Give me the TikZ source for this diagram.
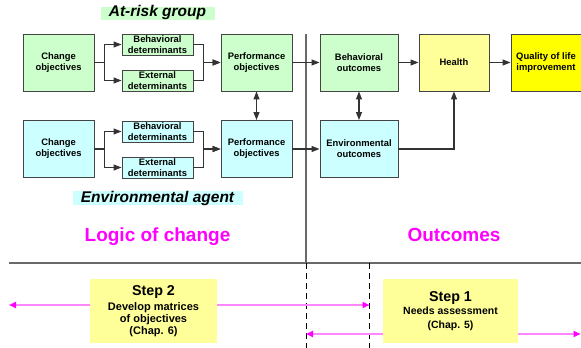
\documentclass[tikz,border=0pt]{standalone}
\usepackage{fontspec}
\setmainfont{Liberation Sans}
\usetikzlibrary{arrows.meta}
\definecolor{gbox}{HTML}{CCFFCC}
\definecolor{cbox}{HTML}{CCFFFF}
\definecolor{ybox}{HTML}{FFFF99}
\definecolor{yybox}{HTML}{FFFF00}
\definecolor{bord}{HTML}{444444}
\definecolor{conn}{HTML}{333333}
\definecolor{mag}{HTML}{FF00FF}
\definecolor{lmag}{HTML}{FF88FF}
\tikzset{
  box/.style={draw=bord,line width=0.9pt,inner sep=0pt,align=center,
    font=\bfseries\fontsize{9.4}{11}\selectfont},
  bigbox/.style={box,minimum width=71pt,minimum height=57pt},
  detbox/.style={box,minimum width=71pt,minimum height=21pt},
  conarr/.style={draw=conn,line width=1.2pt,-{Triangle[length=8pt,width=6pt]}},
  dblarr/.style={draw=conn,line width=1.2pt,{Triangle[length=8pt,width=6pt]}-{Triangle[length=8pt,width=6pt]}},
  magarr/.style={draw=lmag,line width=1.8pt,{Triangle[length=7pt,width=6pt,color=mag]}-{Triangle[length=7pt,width=6pt,color=mag]}},
  grouplab/.style={anchor=base,inner sep=0pt,font=\bfseries\itshape\fontsize{15.5}{18}\selectfont},
  partlab/.style={anchor=base,inner sep=0pt,text=mag,font=\bfseries\fontsize{19}{22}\selectfont},
  stepbox/.style={fill=ybox,inner sep=0pt,align=center,minimum height=64pt},
  divline/.style={draw=bord!80,line width=1.2pt},
  dashline/.style={draw=black,line width=0.9pt,dash pattern=on 6pt off 4pt}
}
\begin{document}
\begin{tikzpicture}[x=1pt,y=-1pt]
\useasboundingbox (0,0) rectangle (581,348);
% group labels
\fill[gbox] (101,7) rectangle (215,20);
\node[grouplab] (lab1) at (157.5,16.7) {At-risk group};
\fill[cbox] (73,191) rectangle (243,205);
\node[grouplab] (lab2) at (157.5,202) {Environmental agent};
% top row
\node[bigbox,fill=gbox] (co1) at (58.5,62.5) {Change\\objectives};
\node[detbox,fill=gbox] (bd1) at (157.5,44.5) {Behavioral\\determinants};
\node[detbox,fill=gbox] (ed1) at (157.5,80.5) {External\\determinants};
\node[bigbox,fill=gbox] (po1) at (256.5,62.5) {Performance\\objectives};
\node[bigbox,fill=gbox,minimum width=78pt] (bo) at (359,62.5) {Behavioral\\outcomes};
\node[bigbox,fill=ybox,minimum width=70pt] (he) at (454,62.5) {Health};
\node[bigbox,fill=yybox,minimum width=70pt] (ql) at (546,62.5) {Quality of life\\improvement};
% bottom row
\node[bigbox,fill=cbox] (co2) at (58.5,149) {Change\\objectives};
\node[detbox,fill=cbox] (bd2) at (157.5,131.5) {Behavioral\\determinants};
\node[detbox,fill=cbox] (ed2) at (157.5,167.5) {External\\determinants};
\node[bigbox,fill=cbox] (po2) at (256.5,149) {Performance\\objectives};
\node[bigbox,fill=cbox,minimum width=78pt] (eo) at (359,149) {Environmental\\outcomes};
% divider lines
\coordinate (vtop) at (306,34);
\coordinate (vmid) at (306,263);
\coordinate (vbot) at (306,348);
\coordinate (hl) at (9,263);
\coordinate (hr) at (581,263);
\coordinate (d2top) at (369,263);
\coordinate (d2bot) at (369,348);
\draw[divline] (vtop) -- (vmid);
\draw[divline] (hl) -- (hr);
\draw[dashline] (vmid) -- (vbot);
\draw[dashline] (d2top) -- (d2bot);
% connectors top
\draw[conarr] (co1.east) -- ++(10,0) |- (bd1.west);
\draw[conarr] (co1.east) -- ++(10,0) |- (ed1.west);
\draw[conarr] (bd1.east) -- ++(10,0) |- (po1.west);
\draw[conarr] (ed1.east) -- ++(10,0) |- (po1.west);
\draw[conarr] (po1.east) -- (bo.west);
\draw[conarr] (bo.east) -- (he.west);
\draw[conarr] (he.east) -- (ql.west);
% connectors bottom
\draw[conarr] (co2.east) -- ++(10,0) |- (bd2.west);
\draw[conarr] (co2.east) -- ++(10,0) |- (ed2.west);
\draw[conarr] (bd2.east) -- ++(10,0) |- (po2.west);
\draw[conarr] (ed2.east) -- ++(10,0) |- (po2.west);
\draw[conarr] (po2.east) -- (eo.west);
\draw[conarr] (eo.east) -| (he.south);
\draw[dblarr] (po1.south) -- (po2.north);
\draw[dblarr] (bo.south) -- (eo.north);
% part labels
\node[partlab] (loc) at (157.5,241) {Logic of change};
\node[partlab] (out) at (454,241) {Outcomes};
% magenta arrows
\coordinate (m1l) at (9,305);
\coordinate (m1r) at (369.5,305);
\coordinate (m2l) at (306,334);
\coordinate (m2r) at (580.5,334);
\draw[magarr] (m1l) -- (m1r);
\draw[magarr] (m2l) -- (m2r);
% step boxes
\node[stepbox,minimum width=127pt,font=\bfseries\fontsize{11}{11.8}\selectfont] (st2) at (153.5,311)
  {{\fontsize{14.3}{15}\selectfont Step 2}\\[3pt]Develop matrices\\of objectives\\(Chap. 6)};
\node[stepbox,minimum width=135pt,font=\bfseries\fontsize{10.5}{13.7}\selectfont] (st1) at (450.5,311)
  {{\fontsize{14.3}{15}\selectfont Step 1}\\[0pt]Needs assessment\\(Chap. 5)};
\end{tikzpicture}
\end{document}
